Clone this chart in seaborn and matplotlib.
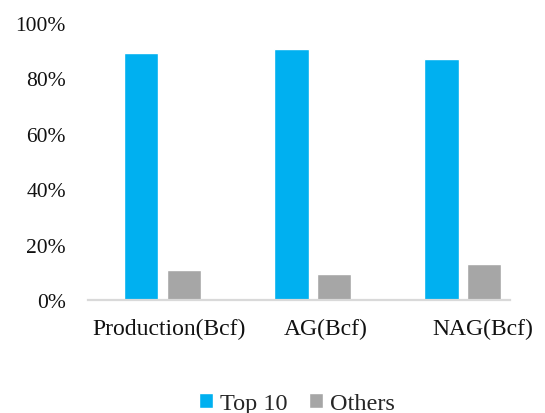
import pandas as pd
import matplotlib.pyplot as plt
import seaborn as sns
from matplotlib.ticker import PercentFormatter

# chart values
categories = ["Production(Bcf)", "AG(Bcf)", "NAG(Bcf)"]
series = ["Top 10", "Others"]
top10_share = [89.3, 90.6, 87.1]
others_share = [10.7, 9.4, 12.9]
colors = ["#00B0F0", "#A6A6A6"]

df = pd.DataFrame({
    "category": categories * 2,
    "group": [series[0]] * 3 + [series[1]] * 3,
    "share": top10_share + others_share,
})

sns.set_style("white")
plt.rcParams["font.family"] = ["Liberation Serif", "DejaVu Serif"]

fig = plt.figure(figsize=(5.45, 4.14), dpi=100)
ax = fig.add_axes([0.1615, 0.273, 0.7745, 0.669])

sns.barplot(data=df, x="category", y="share", hue="group", palette=colors,
            saturation=1, width=0.57, gap=0.2, ax=ax, legend=True)

ax.set_ylim(0, 100)
ax.set_xlim(-0.498, 2.315)
ax.set_yticks([0, 20, 40, 60, 80, 100])
ax.yaxis.set_major_formatter(PercentFormatter(decimals=0))
ax.set_xticks([0.045, 1.085, 2.13])
ax.set_xticklabels(categories)
ax.set_xlabel("")
ax.set_ylabel("")
ax.tick_params(axis="y", length=0, pad=16, labelsize=15.5, colors="#111111")
ax.tick_params(axis="x", length=0, pad=13, labelsize=17, colors="#111111")

for side in ["top", "right", "left"]:
    ax.spines[side].set_visible(False)
ax.spines["bottom"].set_color("#D9D9D9")
ax.spines["bottom"].set_linewidth(1.6)

handles, labels = ax.get_legend_handles_labels()
ax.get_legend().remove()
fig.legend(handles, labels, loc="center", bbox_to_anchor=(0.545, 0.022),
           ncol=2, frameon=False, fontsize=17.5, handlelength=0.55,
           handleheight=0.55, handletextpad=0.3, columnspacing=0.9)

fig.savefig("out.png", dpi=100)
